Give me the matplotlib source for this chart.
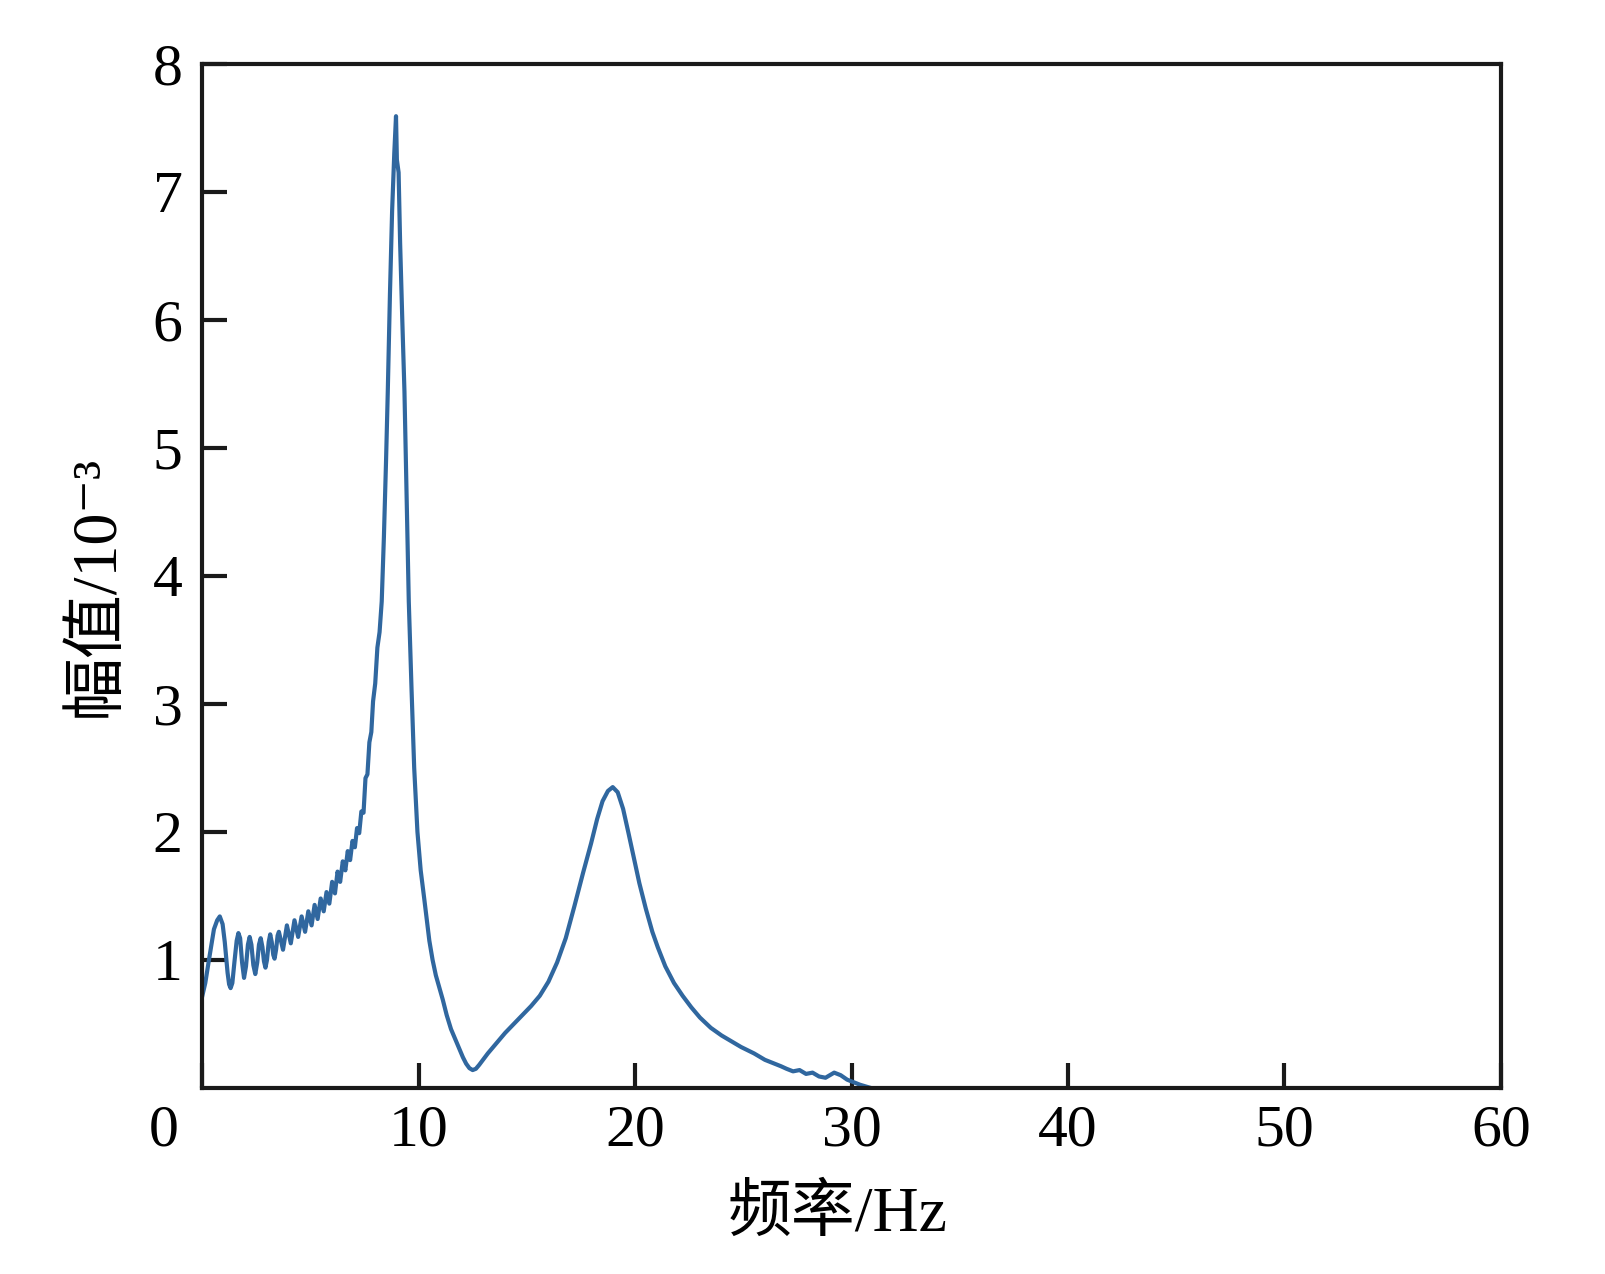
import numpy as np
import matplotlib.pyplot as plt
from matplotlib.transforms import ScaledTranslation

plt.rcParams['font.family'] = ['Liberation Serif', 'Noto Sans CJK SC', 'DejaVu Serif']

# amplitude spectrum (frequency in Hz, amplitude in 1e-3)
freq = [0.00, 0.15, 0.30, 0.55, 0.70, 0.82, 0.95, 1.05, 1.18, 1.25,
        1.32, 1.40, 1.50, 1.60, 1.68, 1.76, 1.85, 1.94, 2.03, 2.12,
        2.20, 2.28, 2.37, 2.46, 2.55, 2.63, 2.71, 2.79, 2.86, 2.93,
        3.00, 3.08, 3.15, 3.22, 3.29, 3.35, 3.42, 3.49, 3.55, 3.74,
        3.92, 4.10, 4.27, 4.44, 4.60, 4.76, 4.91, 5.06, 5.20, 5.34,
        5.48, 5.62, 5.75, 5.88, 6.01, 6.14, 6.26, 6.38, 6.50, 6.62,
        6.73, 6.84, 6.95, 7.06, 7.16, 7.26, 7.36, 7.46, 7.55, 7.64,
        7.73, 7.82, 7.90, 8.00, 8.10, 8.20, 8.30, 8.40, 8.50, 8.58,
        8.68, 8.78, 8.88, 8.96, 9.00, 9.08, 9.15, 9.25, 9.35, 9.45,
        9.55, 9.68, 9.80, 9.95, 10.10, 10.27, 10.50, 10.65, 10.80, 11.12,
        11.30, 11.50, 11.70, 11.90, 12.05, 12.20, 12.35, 12.50, 12.65, 12.80,
        13.20, 14.00, 14.80, 15.20, 15.60, 16.00, 16.40, 16.80, 17.20, 17.60,
        17.97, 18.25, 18.50, 18.75, 18.97, 19.20, 19.45, 19.70, 19.97, 20.20,
        20.50, 20.80, 21.05, 21.40, 21.80, 22.20, 22.60, 23.00, 23.50, 24.00,
        24.90, 25.50, 26.00, 26.74, 27.00, 27.30, 27.60, 27.90, 28.20, 28.50,
        28.80, 29.20, 29.50, 29.80, 30.40, 30.90]
amp = [0.71, 0.82, 0.98, 1.24, 1.31, 1.34, 1.28, 1.14, 0.90, 0.81,
       0.78, 0.82, 0.99, 1.15, 1.21, 1.17, 0.98, 0.86, 0.95, 1.12,
       1.18, 1.12, 0.96, 0.89, 0.98, 1.12, 1.17, 1.10, 0.99, 0.94,
       1.00, 1.14, 1.20, 1.14, 1.04, 1.01, 1.08, 1.19, 1.22, 1.08,
       1.27, 1.13, 1.31, 1.18, 1.34, 1.22, 1.38, 1.27, 1.43, 1.32,
       1.48, 1.38, 1.53, 1.44, 1.61, 1.52, 1.69, 1.61, 1.77, 1.70,
       1.85, 1.78, 1.93, 1.88, 2.03, 1.99, 2.16, 2.15, 2.42, 2.45,
       2.70, 2.78, 3.02, 3.16, 3.44, 3.56, 3.80, 4.30, 4.90, 5.44,
       6.20, 6.85, 7.30, 7.59, 7.25, 7.15, 6.60, 6.00, 5.44, 4.60,
       3.80, 3.10, 2.50, 2.00, 1.70, 1.47, 1.15, 1.00, 0.88, 0.69,
       0.57, 0.46, 0.38, 0.30, 0.24, 0.19, 0.155, 0.14, 0.15, 0.18,
       0.27, 0.43, 0.57, 0.64, 0.72, 0.83, 0.98, 1.17, 1.42, 1.68,
       1.91, 2.10, 2.24, 2.32, 2.35, 2.31, 2.18, 1.99, 1.78, 1.60,
       1.40, 1.22, 1.10, 0.95, 0.82, 0.72, 0.63, 0.55, 0.47, 0.41,
       0.32, 0.27, 0.22, 0.17, 0.15, 0.13, 0.14, 0.11, 0.12, 0.09,
       0.08, 0.12, 0.10, 0.065, 0.025, 0.0]

x_ticks = [0, 10, 20, 30, 40, 50, 60]
y_ticks = [1, 2, 3, 4, 5, 6, 7, 8]

fig = plt.figure(figsize=(16.06, 12.74), dpi=100)
ax = fig.add_axes([0.1258, 0.146, 0.8088, 0.804])

ax.plot(freq, amp, color='#30679f', linewidth=3)

ax.set_xlim(0, 60)
ax.set_ylim(0, 8)
ax.set_xticks(x_ticks)
ax.set_yticks(y_ticks)
ax.tick_params(direction='in', length=18, width=3, labelsize=43, color='#1a1a1a')
ax.tick_params(axis='x', pad=12)
ax.tick_params(axis='y', pad=14)
for s in ax.spines.values():
    s.set_linewidth(3)
    s.set_color('#1a1a1a')

# the "0" under the corner sits left of the axis
zero_lbl = ax.get_xticklabels()[0]
zero_lbl.set_transform(zero_lbl.get_transform() + ScaledTranslation(-0.38, 0, fig.dpi_scale_trans))

ax.set_xlabel('频率/Hz', fontsize=46)
ax.set_ylabel('幅值/10⁻³', fontsize=46)
ax.xaxis.set_label_coords(0.489, -0.095)
ax.yaxis.set_label_coords(-0.058, 0.49)

fig.savefig('out.png', dpi=100)
